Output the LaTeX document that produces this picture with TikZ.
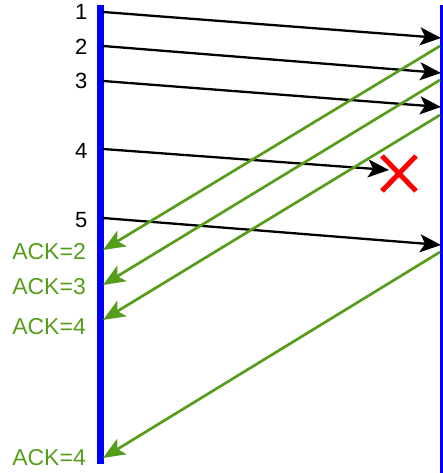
\documentclass[tikz,border=0pt]{standalone}
\usepackage{fontspec}
\setmainfont{Liberation Sans}
\usetikzlibrary{arrows.meta}
\definecolor{ackgreen}{RGB}{87,157,28}
\begin{document}
\begin{tikzpicture}[x=1pt,y=-1pt,
  seg/.style={draw=black, line width=2.3pt, -{Stealth[length=21pt,width=18pt,inset=5pt]}},
  ack/.style={draw=ackgreen, line width=2.7pt, -{Stealth[length=22pt,width=18pt,inset=5pt]}},
  num/.style={anchor=base east, font=\fontsize{22}{22}\selectfont, inner sep=0pt},
  acklbl/.style={anchor=base east, text=ackgreen, font=\fontsize{23}{23}\selectfont, inner sep=0pt},
  timeline/.style={draw=blue}]
\useasboundingbox (0,0) rectangle (443,473);
% timelines
\coordinate (Ltop) at (100.7,5);
\coordinate (Lbot) at (100.7,464);
\coordinate (Rtop) at (441.5,5);
\coordinate (Rbot) at (441.5,473);
\draw[timeline, line width=6.5pt] (Ltop) -- (Lbot);
\draw[timeline, line width=3pt] (Rtop) -- (Rbot);
% labels
\node[num] (n1) at (87.5,20) {1};
\node[num] (n2) at (87.5,55) {2};
\node[num] (n3) at (87.5,89) {3};
\node[num] (n4) at (87.5,158) {4};
\node[num] (n5) at (87.5,227) {5};
\node[acklbl] (a2) at (86,259) {ACK=2};
\node[acklbl] (a3) at (86,294) {ACK=3};
\node[acklbl] (a4) at (86,334) {ACK=4};
\node[acklbl] (a4b) at (86,465) {ACK=4};
% data segments
\coordinate (s1) at (103,12);  \coordinate (r1) at (441,38);
\coordinate (s2) at (103,46);  \coordinate (r2) at (441,73);
\coordinate (s3) at (103,81);  \coordinate (r3) at (441,107);
\coordinate (s4) at (103,149); \coordinate (r4) at (389,170);
\coordinate (s5) at (103,218); \coordinate (r5) at (441,245);
\draw[seg] (s1) -- (r1);
\draw[seg] (s2) -- (r2);
\draw[seg] (s3) -- (r3);
\draw[seg] (s4) -- (r4);
\draw[seg] (s5) -- (r5);
% acks
\coordinate (k1) at (440,46);  \coordinate (e1) at (103,250);
\coordinate (k2) at (440,80);  \coordinate (e2) at (103,285);
\coordinate (k3) at (440,115); \coordinate (e3) at (103,320);
\coordinate (k4) at (440,252); \coordinate (e4) at (103,458);
\draw[ack] (k1) -- (e1);
\draw[ack] (k2) -- (e2);
\draw[ack] (k3) -- (e3);
\draw[ack] (k4) -- (e4);
% loss mark
\coordinate (x1) at (382,156); \coordinate (x2) at (416,191);
\coordinate (x3) at (416,156); \coordinate (x4) at (382,191);
\draw[red, line width=5pt] (x1) -- (x2) (x3) -- (x4);
\end{tikzpicture}
\end{document}
